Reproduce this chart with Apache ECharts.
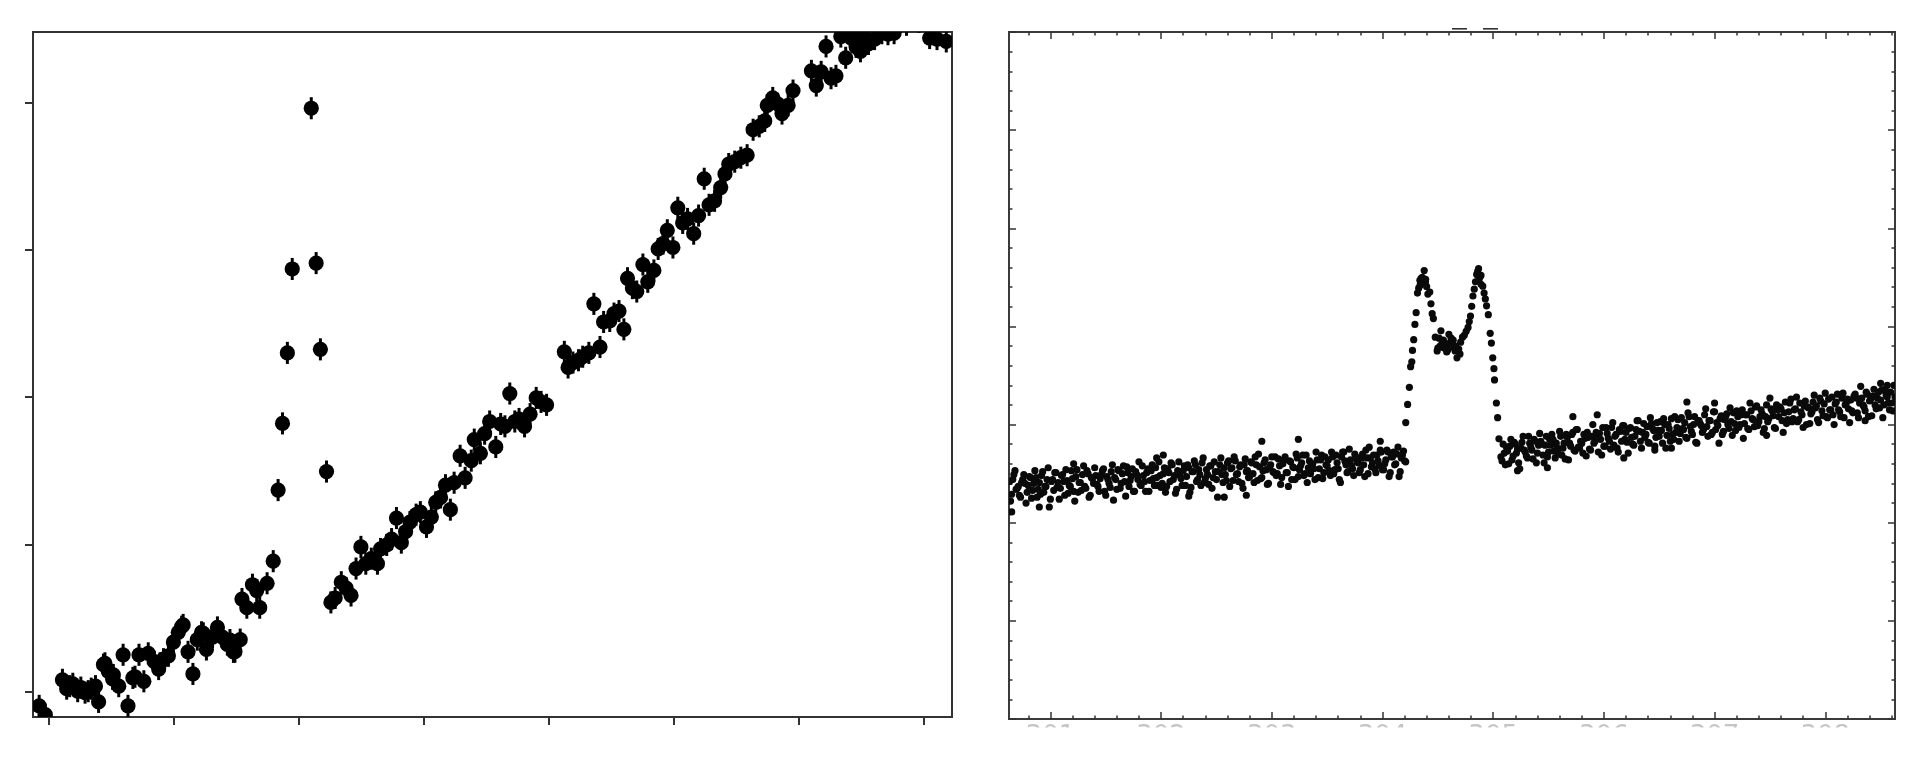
<!DOCTYPE html>
<html><head><meta charset="utf-8">
<script src="https://cdn.jsdelivr.net/npm/echarts@6/dist/echarts.min.js"></script>
<style>html,body{margin:0;padding:0;background:#fff}#c{width:1926px;height:768px}</style>
</head><body><div id="c"></div>
<script>
// ---------- DATA ----------
const leftTicksX = [0,1,2,3,4,5,6,7];
const leftTicksY = [0,1,2,3,4];
const ERR = 0.075;
const lightCurve = [
[-0.073,-0.097],[-0.024,-0.157],[0.113,0.080],[0.147,0.020],[0.171,0.037],[0.196,0.053],[0.235,0.003],[0.260,0.027],[0.294,-0.007],[0.319,0.003],
[0.343,0.020],[0.377,0.037],[0.402,-0.070],[0.441,0.183],[0.453,0.192],[0.480,0.137],[0.514,0.087],[0.520,0.113],[0.563,0.037],[0.598,0.250],
[0.637,-0.097],[0.676,0.093],[0.693,0.101],[0.725,0.250],[0.764,0.070],[0.799,0.260],[0.848,0.203],[0.882,0.153],[0.893,0.192],[0.921,0.220],
[0.960,0.243],[1.000,0.336],[1.039,0.403],[1.066,0.441],[1.078,0.453],[1.117,0.270],[1.156,0.120],[1.191,0.353],[1.225,0.403],[1.239,0.396],
[1.264,0.286],[1.313,0.370],[1.352,0.436],[1.391,0.370],[1.431,0.320],[1.452,0.350],[1.480,0.270],[1.492,0.271],[1.534,0.353],[1.548,0.629],
[1.587,0.570],[1.632,0.726],[1.666,0.686],[1.690,0.570],[1.749,0.736],[1.798,0.886],[1.837,1.369],[1.872,1.822],[1.911,2.301],[1.950,2.871],
[2.102,3.963],[2.141,2.911],[2.175,2.325],[2.224,1.495],[2.259,0.606],[2.293,0.636],[2.342,0.743],[2.381,0.703],[2.420,0.653],[2.460,0.836],
[2.499,0.983],[2.538,0.869],[2.582,0.903],[2.631,0.869],[2.656,0.969],[2.705,0.996],[2.744,1.036],[2.783,1.179],[2.822,1.012],[2.856,1.086],
[2.891,1.152],[2.940,1.202],[2.974,1.219],[3.023,1.119],[3.062,1.186],[3.097,1.286],[3.136,1.319],[3.175,1.402],[3.214,1.236],[3.244,1.419],
[3.292,1.602],[3.332,1.452],[3.381,1.569],[3.405,1.712],[3.454,1.619],[3.488,1.752],[3.528,1.835],[3.577,1.662],[3.616,1.818],[3.650,1.802],
[3.689,2.025],[3.729,1.835],[3.763,1.852],[3.807,1.802],[3.851,1.885],[3.900,1.995],[3.939,1.968],[3.983,1.948],[4.125,2.308],[4.155,2.202],
[4.194,2.235],[4.238,2.251],[4.272,2.275],[4.321,2.301],[4.361,2.634],[4.410,2.341],[4.439,2.511],[4.488,2.518],[4.522,2.568],[4.562,2.585],
[4.601,2.461],[4.630,2.808],[4.669,2.741],[4.704,2.718],[4.753,2.901],[4.792,2.784],[4.841,2.861],[4.875,3.007],[4.914,3.044],[4.948,3.134],
[4.993,3.017],[5.032,3.287],[5.071,3.184],[5.110,3.211],[5.159,3.111],[5.198,3.234],[5.243,3.484],[5.282,3.307],[5.326,3.334],[5.375,3.424],
[5.409,3.517],[5.439,3.584],[5.487,3.600],[5.536,3.627],[5.586,3.644],[5.634,3.817],[5.683,3.840],[5.727,3.877],[5.747,3.983],[5.791,4.033],
[5.830,3.993],[5.865,3.927],[5.914,3.983],[5.953,4.083],[6.100,4.217],[6.139,4.117],[6.178,4.210],[6.217,4.383],[6.257,4.167],[6.296,4.183],
[6.335,4.450],[6.374,4.306],[6.418,4.440],[6.457,4.380],[6.492,4.350],[6.516,4.460],[6.556,4.400],[6.605,4.433],[6.663,4.473],[6.712,4.466],
[6.761,4.473],[6.860,4.530],[6.960,4.550],[7.045,4.440],[7.104,4.433],[7.178,4.417]
];

const specMajorX = [301,302,303,304,305,306,307,308];
const specLabelsX = ['301','302','303','304','305','306','307','308'];
const specMajorY = [0,1,2,3,4,5,6,7];

const specBlue = [
[300.63,2.42],[300.65,2.29],[300.67,2.49],[300.69,2.34],[300.71,2.37],[300.73,2.26],[300.75,2.44],[300.77,2.40],[300.79,2.31],[300.81,2.47],
[300.83,2.25],[300.85,2.40],[300.87,2.46],[300.89,2.34],[300.91,2.29],[300.93,2.52],[300.95,2.37],[300.97,2.44],[300.99,2.16],[301.01,2.42],
[301.03,2.33],[301.05,2.51],[301.07,2.41],[301.09,2.35],[301.11,2.49],[301.13,2.28],[301.15,2.43],[301.17,2.38],[301.19,2.53],[301.21,2.32],
[301.23,2.47],[301.25,2.31],[301.27,2.41],[301.29,2.49],[301.31,2.37],[301.33,2.53],[301.35,2.26],[301.37,2.46],[301.39,2.40],[301.41,2.48],
[301.43,2.37],[301.45,2.45],[301.47,2.53],[301.49,2.32],[301.51,2.47],[301.53,2.40],[301.55,2.52],[301.57,2.23],[301.59,2.44],[301.61,2.54],
[301.63,2.35],[301.65,2.50],[301.67,2.42],[301.69,2.57],[301.71,2.37],[301.73,2.47],[301.75,2.32],[301.77,2.52],[301.79,2.44],[301.81,2.39],
[301.83,2.58],[301.85,2.42],[301.87,2.51],[301.89,2.32],[301.91,2.53],[301.93,2.45],[301.95,2.56],[301.97,2.38],[301.99,2.48],[302.01,2.40],
[302.03,2.56],[302.05,2.37],[302.07,2.51],[302.09,2.61],[302.11,2.44],[302.13,2.30],[302.15,2.53],[302.17,2.48],[302.19,2.38],[302.21,2.58],
[302.23,2.47],[302.25,2.56],[302.27,2.36],[302.29,2.52],[302.31,2.59],[302.33,2.44],[302.35,2.49],[302.37,2.61],[302.39,2.41],[302.41,2.54],
[302.43,2.39],[302.45,2.58],[302.47,2.46],[302.49,2.52],[302.51,2.26],[302.53,2.59],[302.55,2.49],[302.57,2.56],[302.59,2.43],[302.61,2.63],
[302.63,2.55],[302.65,2.43],[302.67,2.63],[302.69,2.50],[302.71,2.57],[302.73,2.40],[302.75,2.59],[302.77,2.52],[302.79,2.46],[302.81,2.62],
[302.83,2.50],[302.85,2.67],[302.87,2.43],[302.89,2.57],[302.91,2.46],[302.93,2.61],[302.95,2.54],[302.97,2.40],[302.99,2.59],[303.01,2.52],
[303.03,2.67],[303.05,2.50],[303.07,2.58],[303.09,2.46],[303.11,2.64],[303.13,2.51],[303.15,2.37],[303.17,2.62],[303.19,2.57],[303.21,2.44],
[303.23,2.66],[303.25,2.54],[303.27,2.61],[303.29,2.48],[303.31,2.69],[303.33,2.56],[303.35,2.50],[303.37,2.60],[303.39,2.44],[303.41,2.64],
[303.43,2.55],[303.45,2.69],[303.47,2.51],[303.49,2.59],[303.51,2.64],[303.53,2.48],[303.55,2.67],[303.57,2.54],[303.59,2.61],[303.61,2.44],
[303.63,2.67],[303.65,2.72],[303.67,2.59],[303.69,2.52],[303.71,2.64],[303.73,2.55],[303.75,2.70],[303.77,2.62],[303.79,2.51],[303.81,2.66],
[303.83,2.59],[303.85,2.74],[303.87,2.50],[303.89,2.66],[303.91,2.61],[303.93,2.55],[303.95,2.69],[303.97,2.58],[303.99,2.72],[304.01,2.54],
[304.03,2.64],[304.05,2.72],[304.07,2.51],[304.09,2.67],[304.11,2.59],[304.13,2.70],[304.15,2.47],[304.17,2.66],[304.19,2.73],[304.21,2.62],
[300.65,2.11],[300.90,2.16],[302.25,2.27],[302.57,2.26],[302.77,2.28],[302.91,2.83],[303.24,2.85],[303.98,2.83],[301.21,2.60],[301.96,2.66],[302.02,2.69]
];
const specBlue2 = [
[300.64,2.22],[300.66,2.44],[300.68,2.53],[300.70,2.35],[300.72,2.28],[300.74,2.41],[300.76,2.49],[300.78,2.20],[300.80,2.38],[300.82,2.46],
[300.84,2.33],[300.86,2.53],[300.88,2.26],[300.90,2.41],[300.92,2.48],[300.94,2.31],[300.96,2.37],[300.98,2.56],[301.00,2.24],[301.02,2.44],
[301.04,2.51],[301.06,2.36],[301.08,2.24],[301.10,2.48],[301.12,2.42],[301.14,2.54],[301.16,2.30],[301.18,2.37],[301.20,2.45],[301.22,2.22],
[301.24,2.54],[301.26,2.41],[301.28,2.33],[301.30,2.58],[301.32,2.35],[301.34,2.50],[301.36,2.28],[301.38,2.45],[301.40,2.56],[301.42,2.39],
[301.44,2.32],[301.46,2.49],[301.48,2.55],[301.50,2.28],[301.52,2.44],[301.54,2.36],[301.56,2.59],[301.58,2.46],[301.60,2.34],[301.62,2.53],
[301.64,2.40],[301.66,2.58],[301.68,2.27],[301.70,2.51],[301.72,2.43],[301.74,2.55],[301.76,2.32],[301.78,2.49],[301.80,2.62],[301.82,2.38],
[301.84,2.48],[301.86,2.32],[301.88,2.55],[301.90,2.43],[301.92,2.59],[301.94,2.38],[301.96,2.46],[301.98,2.62],[302.00,2.36],[302.02,2.50],
[302.04,2.31],[302.06,2.55],[302.08,2.42],[302.10,2.59],[302.12,2.48],[302.14,2.34],[302.16,2.62],[302.18,2.45],[302.20,2.53],[302.22,2.38],
[302.24,2.59],[302.26,2.31],[302.28,2.52],[302.30,2.63],[302.32,2.42],[302.34,2.54],[302.36,2.38],[302.38,2.66],[302.40,2.45],[302.42,2.49],
[302.44,2.58],[302.46,2.35],[302.48,2.62],[302.50,2.44],[302.52,2.52],[302.54,2.66],[302.56,2.41],[302.58,2.49],[302.60,2.61],[302.62,2.37],
[302.64,2.56],[302.66,2.67],[302.68,2.49],[302.70,2.42],[302.72,2.59],[302.74,2.35],[302.76,2.65],[302.78,2.53],[302.80,2.47],[302.82,2.61],
[302.84,2.41],[302.86,2.59],[302.88,2.70],[302.90,2.45],[302.92,2.53],[302.94,2.64],[302.96,2.39],[302.98,2.56],[303.00,2.67],[303.02,2.51],
[303.04,2.48],[303.06,2.65],[303.08,2.39],[303.10,2.60],[303.12,2.67],[303.14,2.51],[303.16,2.63],[303.18,2.44],[303.20,2.56],[303.22,2.70],
[303.24,2.47],[303.26,2.58],[303.28,2.69],[303.30,2.50],[303.32,2.41],[303.34,2.63],[303.36,2.60],[303.38,2.55],[303.40,2.72],[303.42,2.46],
[303.44,2.64],[303.46,2.45],[303.48,2.67],[303.50,2.58],[303.52,2.53],[303.54,2.72],[303.56,2.50],[303.58,2.69],[303.60,2.55],[303.62,2.41],
[303.64,2.72],[303.66,2.63],[303.68,2.51],[303.70,2.75],[303.72,2.58],[303.74,2.48],[303.76,2.67],[303.78,2.61],[303.80,2.54],[303.82,2.70],
[303.84,2.47],[303.86,2.66],[303.88,2.77],[303.90,2.57],[303.92,2.69],[303.94,2.51],[303.96,2.63],[303.98,2.74],[304.00,2.54],[304.02,2.60],
[304.04,2.74],[304.06,2.47],[304.08,2.67],[304.10,2.72],[304.12,2.60],[304.14,2.77],[304.16,2.52],[304.18,2.69],[304.20,2.63]
];
const specPeak = [
[304.210,3.02],[304.227,3.205],[304.243,3.38],[304.254,3.59],[304.265,3.64],[304.271,3.755],[304.282,3.865],[304.293,4.02],[304.304,4.14],[304.316,4.34],
[304.327,4.39],[304.338,4.47],[304.349,4.49],[304.366,4.44],[304.377,4.57],[304.388,4.45],[304.399,4.405],[304.410,4.33],[304.427,4.35],[304.438,4.23],
[304.449,4.13],[304.460,4.08],[304.477,3.89],[304.494,3.75],[304.511,3.88],[304.528,3.955],[304.539,3.83],[304.555,3.78],[304.572,3.815],[304.589,3.76],
[304.606,3.83],[304.622,3.79],[304.639,3.86],[304.656,3.75],[304.673,3.68],[304.689,3.77],[304.706,3.84],[304.723,3.89],[304.739,3.91],[304.756,3.95],
[304.773,3.99],[304.784,4.05],[304.795,4.105],[304.806,4.205],[304.817,4.31],[304.829,4.38],[304.840,4.455],[304.851,4.53],[304.868,4.59],[304.879,4.50],
[304.890,4.43],[304.906,4.41],[304.918,4.34],[304.929,4.28],[304.940,4.21],[304.956,4.12],[304.973,3.93],[304.984,3.83],[304.996,3.68],[305.007,3.57],
[305.012,3.455],[305.029,3.22],[305.040,3.07],[305.052,2.855],
[304.52,3.80],[304.55,3.86],[304.58,3.74],[304.62,3.88],[304.66,3.80],[304.70,3.72],[304.60,3.92],[304.50,3.78],
[304.36,4.50],[304.39,4.48],[304.34,4.42],[304.86,4.56],[304.89,4.52],[304.87,4.47]
];
const specRed = [
[305.07,2.67],[305.09,2.80],[305.11,2.59],[305.13,2.73],[305.15,2.78],[305.17,2.64],[305.19,2.82],[305.21,2.71],[305.23,2.61],[305.25,2.76],
[305.27,2.88],[305.29,2.72],[305.31,2.66],[305.33,2.81],[305.35,2.74],[305.37,2.85],[305.39,2.61],[305.41,2.79],[305.43,2.83],[305.45,2.69],
[305.47,2.79],[305.49,2.67],[305.51,2.85],[305.53,2.90],[305.55,2.73],[305.57,2.81],[305.59,2.70],[305.61,2.88],[305.63,2.76],[305.65,2.65],
[305.67,2.87],[305.69,2.81],[305.71,2.90],[305.73,2.74],[305.75,2.95],[305.77,2.77],[305.79,2.83],[305.81,2.71],[305.83,2.86],[305.85,2.92],
[305.87,2.75],[305.89,2.88],[305.91,2.81],[305.93,2.92],[305.95,2.72],[305.97,2.85],[305.99,2.97],[306.01,2.78],[306.03,2.91],[306.05,2.83],
[306.07,2.97],[306.09,2.79],[306.11,2.90],[306.13,2.72],[306.15,2.93],[306.17,2.99],[306.19,2.85],[306.21,2.82],[306.23,2.96],[306.25,2.87],
[306.27,2.79],[306.29,2.95],[306.31,3.04],[306.33,2.83],[306.35,2.92],[306.37,2.87],[306.39,2.98],[306.41,2.81],[306.43,3.01],[306.45,2.94],
[306.47,2.87],[306.49,2.94],[306.51,3.03],[306.53,2.81],[306.55,3.00],[306.57,2.89],[306.59,2.96],[306.61,3.06],[306.63,2.85],[306.65,2.92],
[306.67,3.05],[306.69,2.91],[306.71,2.96],[306.73,3.02],[306.75,2.86],[306.77,3.08],[306.79,2.93],[306.81,3.00],[306.83,2.82],[306.85,3.04],
[306.87,3.01],[306.89,2.92],[306.91,3.10],[306.93,2.98],[306.95,3.04],[306.97,2.90],[306.99,3.13],[307.01,2.95],[307.03,2.99],[307.05,3.06],
[307.07,2.90],[307.09,3.05],[307.11,3.11],[307.13,2.96],[307.15,3.03],[307.17,3.12],[307.19,2.94],[307.21,3.08],[307.23,3.00],[307.25,3.15],
[307.27,3.01],[307.29,3.10],[307.31,2.95],[307.33,3.14],[307.35,3.05],[307.37,3.18],[307.39,2.99],[307.41,3.08],[307.43,3.11],[307.45,2.96],
[307.47,3.20],[307.49,3.06],[307.51,3.16],[307.53,3.09],[307.55,2.96],[307.57,3.15],[307.59,3.18],[307.61,3.04],[307.63,3.12],[307.65,3.01],
[307.67,3.13],[307.69,3.26],[307.71,3.06],[307.73,3.16],[307.75,3.03],[307.77,3.22],[307.79,3.10],[307.81,3.19],[307.83,3.00],[307.85,3.17],
[307.87,3.11],[307.89,3.23],[307.91,3.17],[307.93,3.05],[307.95,3.27],[307.97,3.14],[307.99,3.21],[308.01,3.08],[308.03,3.26],[308.05,3.15],
[308.07,3.10],[308.09,3.21],[308.11,3.31],[308.13,3.13],[308.15,3.27],[308.17,3.07],[308.19,3.22],[308.21,3.16],[308.23,3.25],[308.25,3.12],
[308.27,3.31],[308.29,3.12],[308.31,3.22],[308.33,3.27],[308.35,3.18],[308.37,3.33],[308.39,3.08],[308.41,3.26],[308.43,3.29],[308.45,3.20],
[308.47,3.27],[308.49,3.17],[308.51,3.35],[308.53,3.20],[308.55,3.30],[308.57,3.22],[308.59,3.33],[308.61,3.14],[308.63,3.28],
[305.72,3.08],[305.94,3.10],[306.75,3.23],[306.18,2.66],[306.46,2.74],[306.61,2.76],[307.47,2.89],[308.36,3.04],[305.22,2.53],[305.49,2.56],[307.00,3.22],[308.50,3.42],[308.56,3.40]
];
const specRed2 = [
[305.08,2.63],[305.10,2.71],[305.12,2.77],[305.14,2.60],[305.16,2.85],[305.18,2.68],[305.20,2.80],[305.22,2.75],[305.24,2.55],[305.26,2.82],
[305.28,2.74],[305.30,2.68],[305.32,2.88],[305.34,2.77],[305.36,2.65],[305.38,2.83],[305.40,2.71],[305.42,2.91],[305.44,2.80],[305.46,2.61],
[305.48,2.88],[305.50,2.72],[305.52,2.79],[305.54,2.85],[305.56,2.66],[305.58,2.76],[305.60,2.93],[305.62,2.69],[305.64,2.81],[305.66,2.90],
[305.68,2.64],[305.70,2.78],[305.72,2.92],[305.74,2.73],[305.76,2.95],[305.78,2.76],[305.80,2.81],[305.82,2.90],[305.84,2.68],[305.86,2.87],
[305.88,2.74],[305.90,3.00],[305.92,2.83],[305.94,2.88],[305.96,2.91],[305.98,2.69],[306.00,2.78],[306.02,2.97],[306.04,2.86],[306.06,2.75],
[306.08,3.02],[306.10,2.88],[306.12,2.76],[306.14,2.95],[306.16,2.83],[306.18,2.99],[306.20,2.92],[306.22,2.71],[306.24,2.97],[306.26,2.80],
[306.28,2.88],[306.30,3.04],[306.32,2.93],[306.34,2.76],[306.36,3.01],[306.38,2.90],[306.40,2.82],[306.42,3.07],[306.44,2.96],[306.46,2.78],
[306.48,3.02],[306.50,2.88],[306.52,2.94],[306.54,3.06],[306.56,2.76],[306.58,3.00],[306.60,2.83],[306.62,2.90],[306.64,3.08],[306.66,2.97],
[306.68,2.83],[306.70,3.07],[306.72,2.95],[306.74,2.87],[306.76,3.12],[306.78,2.98],[306.80,2.90],[306.82,3.08],[306.84,2.81],[306.86,3.04],
[306.88,2.99],[306.90,2.95],[306.92,3.16],[306.94,2.88],[306.96,3.04],[306.98,2.92],[307.00,3.13],[307.02,3.02],[307.04,2.81],[307.06,3.09],
[307.08,2.93],[307.10,3.08],[307.12,3.00],[307.14,3.17],[307.16,2.89],[307.18,3.01],[307.20,3.14],[307.22,2.97],[307.24,3.10],[307.26,2.86],
[307.28,3.10],[307.30,2.96],[307.32,3.22],[307.34,3.06],[307.36,2.98],[307.38,3.19],[307.40,3.03],[307.42,3.15],[307.44,2.92],[307.46,3.08],
[307.48,3.03],[307.50,3.27],[307.52,3.14],[307.54,2.97],[307.56,3.20],[307.58,3.08],[307.60,3.16],[307.62,2.92],[307.64,3.23],[307.66,3.05],
[307.68,3.22],[307.70,3.03],[307.72,3.15],[307.74,3.28],[307.76,3.05],[307.78,3.13],[307.80,2.97],[307.82,3.24],[307.84,3.18],[307.86,3.01],
[307.88,3.13],[307.90,3.30],[307.92,3.19],[307.94,3.02],[307.96,3.24],[307.98,3.09],[308.00,3.32],[308.02,3.07],[308.04,3.15],[308.06,3.28],
[308.08,3.00],[308.10,3.23],[308.12,3.15],[308.14,3.08],[308.16,3.32],[308.18,3.20],[308.20,3.26],[308.22,3.02],[308.24,3.14],[308.26,3.29],
[308.28,3.27],[308.30,3.07],[308.32,3.39],[308.34,3.20],[308.36,3.14],[308.38,3.31],[308.40,3.24],[308.42,3.09],[308.44,3.36],[308.46,3.16],
[308.48,3.33],[308.50,3.25],[308.52,3.07],[308.54,3.36],[308.56,3.28],[308.58,3.15],[308.60,3.22],[308.62,3.40]
];

// ---------- CHART ----------
const chart = echarts.init(document.getElementById('c'), null, {renderer: 'canvas'});
const TICK = '#333';

function minorsBetween(lo, hi, step) {
  const out = [];
  for (let v = Math.ceil(lo / step) * step; v <= hi + 1e-9; v += step) {
    const r = Math.round(v * 1000) / 1000;
    if (Math.abs(r - Math.round(r)) > 1e-6) out.push(r);
  }
  return out;
}
const X2MIN = 300.626, X2MAX = 308.63;
const specMinorX = minorsBetween(X2MIN, X2MAX, 0.2);
const specMinorY = minorsBetween(0, 7, 0.2);

function specAxis(dim, pos, values, len, label) {
  const isX = dim === 'x';
  return {
    gridIndex: 1, type: 'value', position: pos,
    min: isX ? X2MIN : 0, max: isX ? X2MAX : 7,
    axisLine: {show: false, onZero: false}, splitLine: {show: false},
    axisTick: {show: true, inside: true, length: len, customValues: values, lineStyle: {color: TICK, width: 1.5}},
    axisLabel: label ? {show: true, customValues: values, formatter: v => specLabelsX[specMajorX.indexOf(Math.round(v))] || '', color: '#c4c4c4', fontSize: 26, fontFamily: 'DejaVu Sans', margin: 5} : {show: false}
  };
}

const option = {
  backgroundColor: '#fff',
  animation: false,
  grid: [
    {left: 33, top: 32, width: 919, height: 685, show: true, borderColor: '#333', borderWidth: 2, backgroundColor: 'transparent'},
    {left: 1009, top: 32, width: 886, height: 687, show: true, borderColor: '#3a3a3a', borderWidth: 2, backgroundColor: 'transparent'}
  ],
  xAxis: [
    {gridIndex: 0, type: 'value', position: 'bottom', min: -0.1223, max: 7.2238,
      axisLine: {show: false, onZero: false}, splitLine: {show: false}, axisLabel: {show: false},
      axisTick: {show: true, inside: false, length: 8, customValues: leftTicksX, lineStyle: {color: TICK, width: 2}}},
    specAxis('x', 'bottom', specMajorX, 7, true),
    specAxis('x', 'bottom', specMinorX, 3.5, false),
    specAxis('x', 'top', specMajorX, 7, false),
    specAxis('x', 'top', specMinorX, 3.5, false)
  ],
  yAxis: [
    {gridIndex: 0, type: 'value', position: 'left', min: -0.1726, max: 4.481,
      axisLine: {show: false, onZero: false}, splitLine: {show: false}, axisLabel: {show: false},
      axisTick: {show: true, inside: false, length: 8, customValues: leftTicksY, lineStyle: {color: TICK, width: 2}}},
    specAxis('y', 'left', specMajorY, 7, false),
    specAxis('y', 'left', specMinorY, 3.5, false),
    specAxis('y', 'right', specMajorY, 7, false),
    specAxis('y', 'right', specMinorY, 3.5, false)
  ],
  series: [
    {
      type: 'custom', coordinateSystem: 'cartesian2d', xAxisIndex: 0, yAxisIndex: 0, clip: true,
      data: lightCurve, encode: {x: 0, y: 1},
      renderItem: function (params, api) {
        const x = api.value(0), y = api.value(1);
        const p = api.coord([x, y]);
        const t = api.coord([x, y + ERR]);
        const b = api.coord([x, y - ERR]);
        return {type: 'group', children: [
          {type: 'line', shape: {x1: p[0], y1: t[1], x2: p[0], y2: b[1]}, style: {stroke: '#000', lineWidth: 3}},
          {type: 'circle', shape: {cx: p[0], cy: p[1], r: 7.6}, style: {fill: '#000'}}
        ]};
      }
    },
    {
      type: 'custom', coordinateSystem: 'cartesian2d', xAxisIndex: 1, yAxisIndex: 1, clip: true,
      data: specBlue.concat(specBlue2, specPeak, specRed, specRed2), encode: {x: 0, y: 1},
      renderItem: function (params, api) {
        const p = api.coord([api.value(0), api.value(1)]);
        return {type: 'circle', shape: {cx: p[0], cy: p[1], r: 3.6}, style: {fill: '#0a0a0a'}};
      }
    }
  ],
  graphic: [
    {type: 'rect', z: 100, shape: {x: 1000, y: 727.5, width: 926, height: 41}, style: {fill: '#fff'}},
    {type: 'rect', z: 100, shape: {x: 1452, y: 28, width: 15, height: 1.6}, style: {fill: '#333'}},
    {type: 'rect', z: 100, shape: {x: 1483, y: 28, width: 15, height: 1.6}, style: {fill: '#333'}}
  ]
};
chart.setOption(option);
</script>
</body></html>
